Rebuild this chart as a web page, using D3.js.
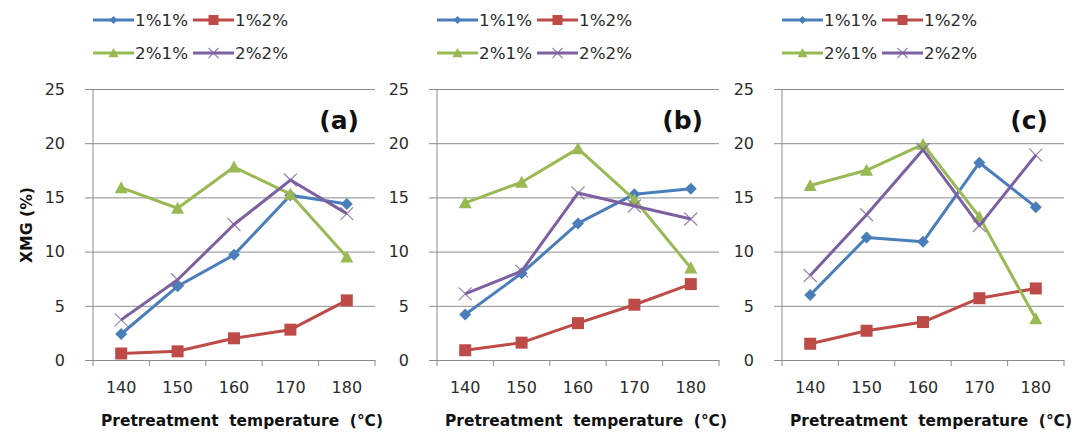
<!DOCTYPE html>
<html>
<head>
<meta charset="utf-8">
<script src="https://cdn.jsdelivr.net/npm/d3@7"></script>
<style>
  html, body { margin: 0; padding: 0; background: #fff; }
  svg { display: block; }
  text { font-family: "DejaVu Sans", Verdana, sans-serif; }
</style>
</head>
<body>
<svg id="chart" width="1087" height="439"></svg>
<script>
// ---- data ----
const categories = [140, 150, 160, 170, 180];
const seriesNames = ["1%1%", "1%2%", "2%1%", "2%2%"];
const yTicks = [0, 5, 10, 15, 20, 25];
const panelLabels = ["(a)", "(b)", "(c)"];

// panel (a)
const a_1p1p = [2.4, 6.8, 9.7, 15.2, 14.4];
const a_1p2p = [0.6, 0.8, 2.0, 2.8, 5.5];
const a_2p1p = [15.9, 14.0, 17.8, 15.3, 9.5];
const a_2p2p = [3.7, 7.4, 12.5, 16.6, 13.5];
// panel (b)
const b_1p1p = [4.2, 8.0, 12.6, 15.3, 15.8];
const b_1p2p = [0.9, 1.6, 3.4, 5.1, 7.0];
const b_2p1p = [14.5, 16.4, 19.5, 14.8, 8.5];
const b_2p2p = [6.1, 8.2, 15.4, 14.2, 13.0];
// panel (c)
const c_1p1p = [6.0, 11.3, 10.9, 18.2, 14.1];
const c_1p2p = [1.5, 2.7, 3.5, 5.7, 6.6];
const c_2p1p = [16.1, 17.5, 19.9, 13.2, 3.8];
const c_2p2p = [7.8, 13.4, 19.4, 12.4, 18.9];

const panelData = [
  [a_1p1p, a_1p2p, a_2p1p, a_2p2p],
  [b_1p1p, b_1p2p, b_2p1p, b_2p2p],
  [c_1p1p, c_1p2p, c_2p1p, c_2p2p]
];

// ---- styles ----
const colors = ["#4A7EBB", "#BE4B48", "#98B954", "#7D60A0"];
const markers = ["diamond", "square", "triangle", "cross"];
const panelLeft = [93, 437, 782];
const panelWidth = 282;
const plotTop = 89, plotBottom = 360;

const svg = d3.select("#chart");

function markerPath(type, s) {
  const h = s / 2;
  switch (type) {
    case "diamond": return `M0,${-h}L${h},0L0,${h}L${-h},0Z`;
    case "square": return `M${-h},${-h}H${h}V${h}H${-h}Z`;
    case "triangle": return `M0,${-h}L${h},${h*0.85}L${-h},${h*0.85}Z`;
    case "cross": return `M${-h},${-h}L${h},${h}M${h},${-h}L${-h},${h}`;
  }
}
const markerSize = { diamond: 12, square: 12, triangle: 13, cross: 13 };
const legendMarkerSize = { diamond: 8, square: 10, triangle: 10, cross: 10 };

function drawMarker(g, type, color, size) {
  if (type === "cross") {
    g.append("path").attr("d", markerPath(type, size))
      .attr("fill", "none").attr("stroke", color).attr("stroke-opacity", 0.75).attr("stroke-width", 1.3);
  } else {
    g.append("path").attr("d", markerPath(type, size)).attr("fill", color).attr("stroke", "none");
  }
}

const y = d3.scaleLinear().domain([0, 25]).range([plotBottom, plotTop]);

panelData.forEach((series, pi) => {
  const left = panelLeft[pi];
  const x = d3.scaleBand().domain(categories).range([left, left + panelWidth]);
  const g = svg.append("g");

  // gridlines (extending left as tick marks)
  const ya = g.append("g").attr("transform", `translate(${left + panelWidth},0)`)
    .call(d3.axisLeft(y).tickValues(yTicks).tickSize(panelWidth + 8).tickFormat(""));
  ya.select(".domain").remove();
  ya.selectAll(".tick line").attr("stroke", "#8c8c8c").attr("stroke-width", 1);

  // y tick labels
  g.selectAll(".ylab").data(yTicks).enter().append("text")
    .attr("x", left - 28).attr("y", d => y(d)).attr("dy", "0.36em")
    .attr("text-anchor", "end").attr("font-size", 16).attr("fill", "#2b2b2b")
    .text(d => d);

  // y axis line
  g.append("line").attr("x1", left).attr("x2", left).attr("y1", plotTop).attr("y2", plotBottom)
    .attr("stroke", "#8c8c8c").attr("stroke-width", 1);

  // x axis with tick marks at band boundaries
  const xa = g.append("g").attr("transform", `translate(0,${plotBottom})`)
    .call(d3.axisBottom(x).tickSize(0).tickPadding(22));
  xa.select(".domain").attr("stroke", "#8c8c8c");
  xa.selectAll(".tick text").attr("font-size", 16).attr("fill", "#2b2b2b")
    .attr("font-family", '"DejaVu Sans", Verdana, sans-serif');
  const bounds = categories.map(c => x(c)).concat([x(categories[categories.length - 1]) + x.bandwidth()]);
  g.selectAll(".xtick").data(bounds).enter().append("line")
    .attr("x1", d => d).attr("x2", d => d).attr("y1", plotBottom).attr("y2", plotBottom + 6)
    .attr("stroke", "#8c8c8c");

  // x axis title
  g.append("text").attr("x", left + panelWidth / 2 + 8).attr("y", 426)
    .attr("text-anchor", "middle").attr("font-size", 16).attr("font-weight", "bold")
    .attr("fill", "#111").attr("textLength", 282).attr("lengthAdjust", "spacingAndGlyphs")
    .attr("xml:space", "preserve")
    .text("Pretreatment  temperature  (°C)");

  // series
  const line = d3.line().x((d, i) => x(categories[i]) + x.bandwidth() / 2).y(d => y(d));
  series.forEach((vals, si) => {
    g.append("path").datum(vals).attr("d", line)
      .attr("fill", "none").attr("stroke", colors[si]).attr("stroke-width", 3)
      .attr("stroke-linejoin", "round");
    vals.forEach((v, i) => {
      const mg = g.append("g").attr("transform", `translate(${x(categories[i]) + x.bandwidth() / 2},${y(v)})`);
      drawMarker(mg, markers[si], colors[si], markerSize[markers[si]]);
    });
  });

  // panel label
  g.append("text").attr("x", left + panelWidth - 16).attr("y", 129)
    .attr("text-anchor", "end").attr("font-size", 25).attr("font-weight", "bold").attr("fill", "#111")
    .text(panelLabels[pi]);

  // legend
  seriesNames.forEach((name, si) => {
    const col = si % 2, row = Math.floor(si / 2);
    const lx = left + col * 100;
    const ly = row === 0 ? 20 : 53;
    const lg = g.append("g");
    lg.append("line").attr("x1", lx).attr("x2", lx + 41).attr("y1", ly).attr("y2", ly)
      .attr("stroke", colors[si]).attr("stroke-width", 3);
    const mg = lg.append("g").attr("transform", `translate(${lx + 20.5},${ly})`);
    drawMarker(mg, markers[si], colors[si], legendMarkerSize[markers[si]]);
    lg.append("text").attr("x", lx + 42).attr("y", ly).attr("dy", "0.36em")
      .attr("font-size", 16).attr("fill", "#2b2b2b").attr("textLength", 53).attr("lengthAdjust", "spacingAndGlyphs")
      .text(name);
  });
});

// y axis title (panel a only)
svg.append("text").attr("transform", "translate(27,225) rotate(-90)")
  .attr("text-anchor", "middle").attr("dy", "0.36em")
  .attr("font-size", 15).attr("font-weight", "bold").attr("fill", "#111")
  .attr("textLength", 76).attr("lengthAdjust", "spacingAndGlyphs")
  .text("XMG (%)");
</script>
</body>
</html>
